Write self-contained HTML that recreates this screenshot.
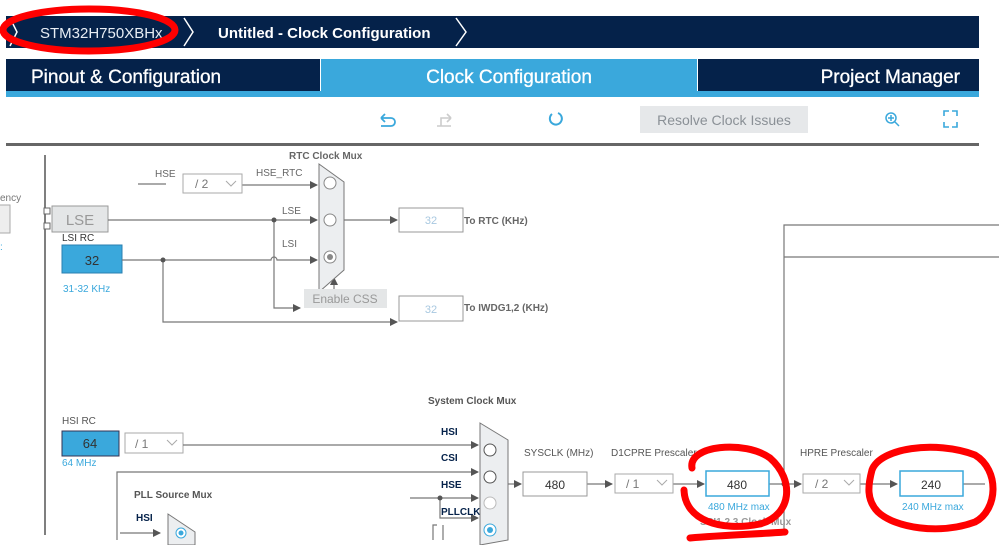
<!DOCTYPE html><html><head><meta charset="utf-8"><style>
html,body{margin:0;padding:0;background:#fff;width:999px;height:545px;overflow:hidden;font-family:"Liberation Sans",sans-serif}
svg{position:absolute;left:0;top:0}
</style></head><body>
<svg width="999" height="545" viewBox="0 0 999 545" font-family="Liberation Sans, sans-serif">
<defs><marker id="a" markerWidth="8" markerHeight="8" refX="7" refY="4" orient="auto" markerUnits="userSpaceOnUse"><path d="M0,0 L8,4 L0,8z" fill="#555"/></marker></defs>
<rect x="6" y="16" width="973" height="32" fill="#05224a"/>
<path d="M10,18 L17,32 L10,46 M184,18 L193,32 L184,46 M456,18 L466,32 L456,46" stroke="#fff" stroke-width="1.5" fill="none"/>
<text x="40" y="38" font-size="15" fill="#e8eef5">STM32H750XBHx</text>
<text x="218" y="38" font-size="15" font-weight="bold" fill="#fff">Untitled - Clock Configuration</text>
<rect x="6" y="59" width="314" height="32" fill="#05224a"/>
<rect x="321" y="59" width="376" height="32" fill="#3aa8dc"/>
<rect x="698" y="59" width="281" height="32" fill="#05224a"/>
<rect x="6" y="91" width="973" height="6" fill="#3aa8dc"/>
<text x="31" y="83" font-size="19" fill="#fff" stroke="#fff" stroke-width="0.3">Pinout &amp; Configuration</text>
<text x="509" y="83" font-size="19" fill="#fff" stroke="#fff" stroke-width="0.3" text-anchor="middle">Clock Configuration</text>
<text x="960" y="83" font-size="19" fill="#fff" stroke="#fff" stroke-width="0.3" text-anchor="end">Project Manager</text>
<path d="M381,118 h10 a4,4 0 0 1 0,8 h-10 M381,118 l4,-4 M381,118 l4,4" stroke="#3aa8dc" stroke-width="1.8" fill="none"/>
<path d="M451,118 h-10 v8 M451,118 l-4,-4 M451,118 l-4,4 M437,126 h14" stroke="#ccc" stroke-width="1.6" fill="none"/>
<path d="M552,114 a6,6 0 1 0 6,-1" stroke="#3aa8dc" stroke-width="2" fill="none"/>
<rect x="640" y="106" width="168" height="27" fill="#e6e8ea"/>
<text x="724" y="125" font-size="14" fill="#8a9096" text-anchor="middle">Resolve Clock Issues</text>
<circle cx="891" cy="118" r="5" stroke="#3aa8dc" stroke-width="1.5" fill="none"/><path d="M895,122 l4,4 M888,118h6M891,115v6" stroke="#3aa8dc" stroke-width="1.5"/>
<path d="M944,116v-5h5 M952,111h5v5 M957,122v5h-5 M949,127h-5v-5" stroke="#3aa8dc" stroke-width="1.6" fill="none"/>
<rect x="6" y="143" width="973" height="3" fill="#666"/>
<line x1="45" y1="155" x2="45" y2="535" stroke="#555" stroke-width="1.5"/>
<text x="0" y="201" font-size="10" fill="#777">ency</text>
<rect x="-2" y="205" width="12" height="28" fill="#eee" stroke="#aaa"/>
<text x="0" y="250" font-size="10" fill="#3aa8dc">:</text>
<rect x="44" y="208" width="6" height="6" fill="#fff" stroke="#666"/><rect x="44" y="223" width="6" height="6" fill="#fff" stroke="#666"/>
<rect x="52" y="206" width="56" height="26" fill="#e4e6e7" stroke="#999"/>
<text x="80" y="225" font-size="15" fill="#999" text-anchor="middle">LSE</text>
<text x="62" y="241" font-size="10" fill="#333">LSI RC</text>
<rect x="62" y="245" width="60" height="28" fill="#3aa8dc" stroke="#2a7fb0"/>
<text x="92" y="265" font-size="13" fill="#333" text-anchor="middle">32</text>
<text x="63" y="292" font-size="10" fill="#3aa8dc">31-32 KHz</text>
<g stroke="#777" stroke-width="1.2" fill="none">
<line x1="138" y1="184" x2="166" y2="184"/>
<line x1="225" y1="185" x2="317" y2="185" marker-end="url(#a)"/>
<line x1="108" y1="220" x2="317" y2="220" marker-end="url(#a)"/>
<path d="M122,260 H271 a3,3 0 0 1 6,0 H317" marker-end="url(#a)"/>
<path d="M274,220 V308 H300" marker-end="url(#a)"/>
<path d="M163,260 V322 H397" marker-end="url(#a)"/>
<line x1="334" y1="290" x2="334" y2="278" marker-end="url(#a)"/>
<line x1="344" y1="220" x2="397" y2="220" marker-end="url(#a)"/>
</g>
<circle cx="274" cy="220" r="2.5" fill="#555"/><circle cx="163" cy="260" r="2.5" fill="#555"/>
<text x="155" y="177" font-size="10" fill="#666">HSE</text>
<rect x="183" y="174" width="59" height="19" fill="#fff" stroke="#aaa"/>
<text x="195" y="188" font-size="12" fill="#777">/ 2</text><path d="M226,181 l5,5 l5,-5" stroke="#aaa" fill="none"/>
<text x="256" y="176" font-size="10" fill="#666">HSE_RTC</text>
<text x="282" y="214" font-size="10" fill="#666">LSE</text>
<text x="282" y="247" font-size="10" fill="#666">LSI</text>
<text x="289" y="159" font-size="10" fill="#666" font-weight="bold">RTC Clock Mux</text>
<polygon points="319,164 344,182 344,270 319,292" fill="#eceef0" stroke="#777"/>
<circle cx="330" cy="183" r="6" fill="#fff" stroke="#888"/>
<circle cx="330" cy="220" r="6" fill="#fff" stroke="#888"/>
<circle cx="330" cy="257" r="6" fill="#fff" stroke="#888"/><circle cx="330" cy="257" r="3" fill="#888"/>
<rect x="304" y="289" width="83" height="19" fill="#e4e6e7"/>
<text x="345" y="303" font-size="12" fill="#999" text-anchor="middle">Enable CSS</text>
<rect x="399" y="208" width="64" height="24" fill="#fff" stroke="#999"/><text x="431" y="224" font-size="11" fill="#a8c8e0" text-anchor="middle">32</text>
<text x="464" y="224" font-size="10" fill="#666" font-weight="bold">To RTC (KHz)</text>
<rect x="399" y="296" width="64" height="25" fill="#fff" stroke="#999"/><text x="431" y="313" font-size="11" fill="#a8c8e0" text-anchor="middle">32</text>
<text x="464" y="311" font-size="10" fill="#666" font-weight="bold">To IWDG1,2 (KHz)</text>
<g stroke="#777" stroke-width="1.2" fill="none">
<path d="M784,535 V225 H999 M784,257 H999"/>
</g>
<text x="428" y="404" font-size="10" fill="#555" font-weight="bold">System Clock Mux</text>
<text x="62" y="424" font-size="10" fill="#555">HSI RC</text>
<rect x="62" y="431" width="57" height="25" fill="#3aa8dc" stroke="#335"/>
<text x="90" y="448" font-size="13" fill="#333" text-anchor="middle">64</text>
<text x="62" y="466" font-size="10" fill="#3aa8dc">64 MHz</text>
<rect x="125" y="433" width="58" height="20" fill="#fff" stroke="#aaa"/>
<text x="135" y="448" font-size="12" fill="#777">/ 1</text><path d="M167,440 l5,5 l5,-5" stroke="#aaa" fill="none"/>
<g stroke="#777" stroke-width="1.2" fill="none">
<line x1="183" y1="445" x2="478" y2="445" marker-end="url(#a)"/>
<path d="M117,540 V472 H478" marker-end="url(#a)"/>
<line x1="410" y1="498" x2="478" y2="498" marker-end="url(#a)"/>
<path d="M440,498 V518 H478" marker-end="url(#a)"/>
<path d="M433,540 V525 H437 M443,525 V540"/>
<line x1="120" y1="533" x2="160" y2="533" marker-end="url(#a)"/>
<line x1="508" y1="484" x2="521" y2="484" marker-end="url(#a)"/>
<line x1="587" y1="484" x2="612" y2="484" marker-end="url(#a)"/>
<line x1="673" y1="484" x2="704" y2="484" marker-end="url(#a)"/>
<line x1="769" y1="484" x2="801" y2="484" marker-end="url(#a)"/>
<line x1="860" y1="484" x2="897" y2="484" marker-end="url(#a)"/>
<line x1="963" y1="484" x2="985" y2="484"/>
</g>
<circle cx="440" cy="498" r="2.5" fill="#555"/><circle cx="784" cy="484" r="2.5" fill="#555"/>
<text x="441" y="435" font-size="10" fill="#05224a" font-weight="bold">HSI</text>
<text x="441" y="461" font-size="10" fill="#05224a" font-weight="bold">CSI</text>
<text x="441" y="488" font-size="10" fill="#05224a" font-weight="bold">HSE</text>
<text x="441" y="515" font-size="10" fill="#05224a" font-weight="bold">PLLCLK</text>
<polygon points="480,423 508,440 508,540 480,545" fill="#eceef0" stroke="#777"/>
<circle cx="490" cy="450" r="6" fill="#fff" stroke="#555"/>
<circle cx="490" cy="477" r="6" fill="#fff" stroke="#555"/>
<circle cx="490" cy="503" r="6" fill="#fff" stroke="#bbb"/>
<circle cx="490" cy="530" r="6" fill="#fff" stroke="#3aa8dc"/><circle cx="490" cy="530" r="3" fill="#3aa8dc"/>
<text x="134" y="498" font-size="10" fill="#555" font-weight="bold">PLL Source Mux</text>
<text x="136" y="521" font-size="10" fill="#05224a" font-weight="bold">HSI</text>
<polygon points="168,514 195,532 195,545 168,545" fill="#eceef0" stroke="#777"/>
<circle cx="181" cy="533" r="5" fill="#fff" stroke="#3aa8dc"/><circle cx="181" cy="533" r="2.5" fill="#3aa8dc"/>
<text x="524" y="456" font-size="10" fill="#555">SYSCLK (MHz)</text>
<rect x="523" y="472" width="64" height="24" fill="#fff" stroke="#999"/><text x="555" y="489" font-size="12" fill="#333" text-anchor="middle">480</text>
<text x="611" y="456" font-size="10" fill="#555">D1CPRE Prescaler</text>
<rect x="615" y="474" width="58" height="19" fill="#fff" stroke="#aaa"/>
<text x="626" y="488" font-size="12" fill="#777">/ 1</text><path d="M657,480 l5,5 l5,-5" stroke="#aaa" fill="none"/>
<rect x="706" y="471" width="63" height="25" fill="#fff" stroke="#3aa8dc" stroke-width="1.5"/><text x="737" y="489" font-size="12" fill="#333" text-anchor="middle">480</text>
<text x="708" y="510" font-size="10" fill="#3aa8dc">480 MHz max</text>
<text x="700" y="525" font-size="10" fill="#999" font-weight="bold">SPI1,2,3 Clock Mux</text>
<text x="800" y="456" font-size="10" fill="#555">HPRE Prescaler</text>
<rect x="803" y="474" width="57" height="19" fill="#fff" stroke="#aaa"/>
<text x="815" y="488" font-size="12" fill="#777">/ 2</text><path d="M844,480 l5,5 l5,-5" stroke="#aaa" fill="none"/>
<rect x="900" y="471" width="63" height="25" fill="#fff" stroke="#3aa8dc" stroke-width="1.5"/><text x="931" y="489" font-size="12" fill="#333" text-anchor="middle">240</text>
<text x="902" y="510" font-size="10" fill="#3aa8dc">240 MHz max</text>
<g stroke="#f00" stroke-width="7" fill="none" stroke-linecap="round">
<ellipse cx="89" cy="30" rx="86" ry="21"/>
<path d="M692,468 C688,445 745,440 770,458 C795,480 792,515 760,524 C720,532 685,520 684,490 M690,538 C725,535 760,534 785,532"/>
<path d="M872,470 C880,448 935,440 975,455 C1000,470 998,510 975,522 C940,535 895,528 878,512 C866,500 868,485 872,470"/>
</g>
</svg>
</body></html>
